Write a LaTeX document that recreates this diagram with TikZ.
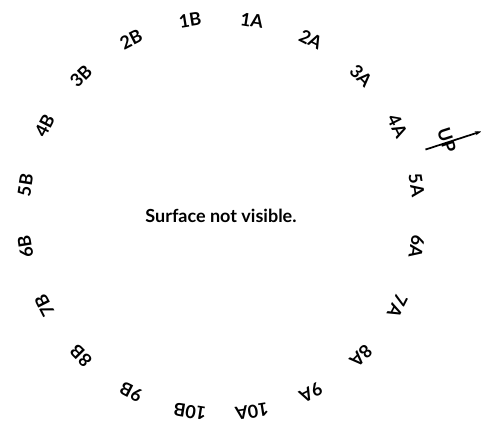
\documentclass[tikz,border=0pt]{standalone}
\usepackage{fontspec}
\setmainfont{Lato}
\usetikzlibrary{arrows.meta,calc}

\begin{document}
\begin{tikzpicture}[x=0.75pt,y=0.75pt,
  port/.style={font=\fontsize{13.5}{15}\selectfont\bfseries,inner sep=0pt},
  note/.style={font=\fontsize{13.5}{16}\selectfont\bfseries,inner sep=0pt}]
\useasboundingbox (0,0) rectangle (481,432);
\coordinate (ctr) at (221,216);
\node[note] (msg) at (ctr) {Surface not visible.};
% ports round the rim, A side clockwise from the top, B side anticlockwise
\foreach \n in {1,...,10}{
  \pgfmathsetmacro{\angA}{99-18*\n}
  \pgfmathsetmacro{\angB}{81+18*\n}
  \node[port,rotate=\angA-90] (port\n A) at ($(ctr)+(\angA:198)$) {\n A};
  \node[port,rotate=\angB-90] (port\n B) at ($(ctr)+(\angB:198)$) {\n B};
}
% orientation mark
\coordinate (upfoot) at ($(ctr)+(18:215)$);
\coordinate (uptip) at ($(ctr)+(18:274)$);
\node[port,rotate=-72] (up) at ($(ctr)+(18.5:238)$) {UP};
\draw[line width=1.3pt,-{Stealth[length=5pt,width=3pt]}] (upfoot) -- (uptip);
\end{tikzpicture}
\end{document}
